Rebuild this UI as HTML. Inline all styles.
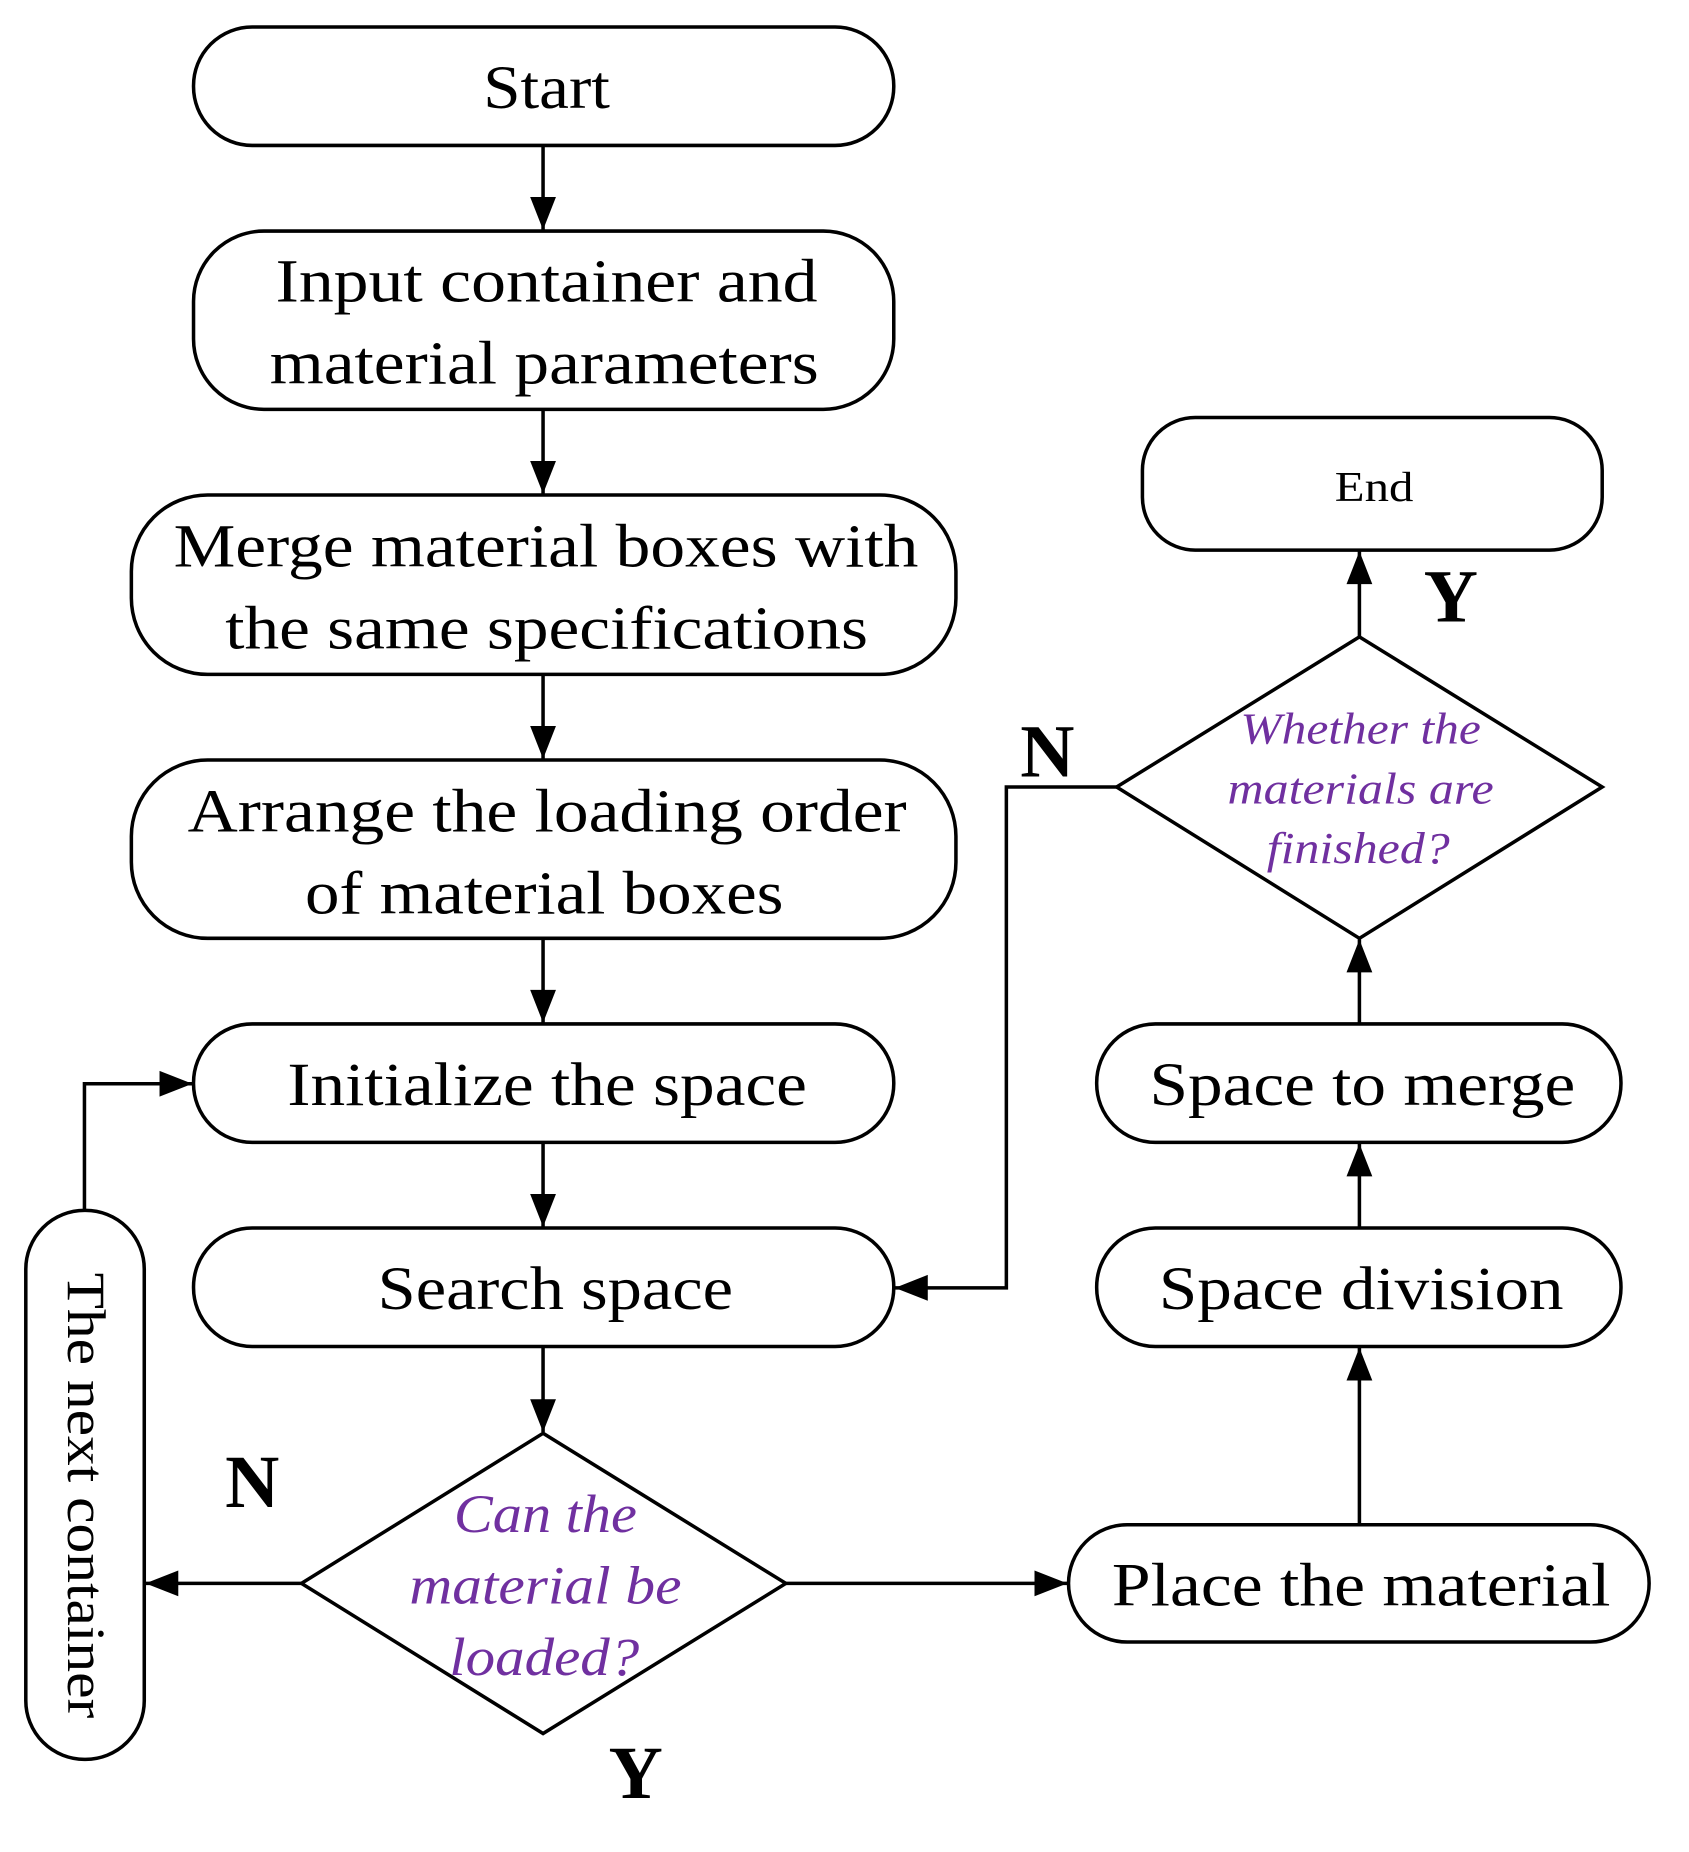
<!DOCTYPE html>
<html><head><meta charset="utf-8"><style>html,body{margin:0;padding:0;background:#fff}svg{display:block}</style></head>
<body>
<svg width="1689" height="1852" viewBox="0 0 1440 1579" preserveAspectRatio="none" xmlns="http://www.w3.org/2000/svg" font-family="'Liberation Serif', serif">
<g fill="none" stroke="#000" stroke-width="3">
<rect x="165" y="23" width="597" height="101" rx="50"/>
<rect x="165" y="197" width="597" height="152" rx="60"/>
<rect x="112" y="422" width="703" height="153" rx="65"/>
<rect x="112" y="648" width="703" height="152" rx="65"/>
<rect x="165" y="873" width="597" height="101" rx="50"/>
<rect x="165" y="1047" width="597" height="101" rx="50"/>
<rect x="22" y="1032" width="101" height="468" rx="50"/>
<rect x="911" y="1300" width="495" height="100" rx="50"/>
<rect x="935" y="1047" width="447" height="101" rx="50"/>
<rect x="935" y="873" width="447" height="101" rx="50"/>
<rect x="974" y="356" width="392" height="113" rx="45"/>
<polygon points="463,1222 670,1350 463,1478 257,1350"/>
<polygon points="1159,543 1366,671 1159,800 952,671"/>
</g>
<g stroke="#000" stroke-width="3" fill="none">
<path d="M463,124V196"/>
<path d="M463,349V421"/>
<path d="M463,575V647"/>
<path d="M463,800V872"/>
<path d="M463,974V1046"/>
<path d="M463,1148V1221"/>
<path d="M72,1032V924H164"/>
<path d="M257,1350H124"/>
<path d="M670,1350H910"/>
<path d="M1159,1300V1149"/>
<path d="M1159,1047V975"/>
<path d="M1159,873V801"/>
<path d="M1159,543V470"/>
<path d="M952,671H858V1098H763"/>
</g>
<g fill="#000">
<path d="M452,168L474,168L463,196z"/>
<path d="M452,393L474,393L463,421z"/>
<path d="M452,619L474,619L463,647z"/>
<path d="M452,844L474,844L463,872z"/>
<path d="M452,1018L474,1018L463,1046z"/>
<path d="M452,1193L474,1193L463,1221z"/>
<path d="M136,913L136,935L164,924z"/>
<path d="M152,1339L152,1361L124,1350z"/>
<path d="M882,1339L882,1361L910,1350z"/>
<path d="M1148,1177L1170,1177L1159,1149z"/>
<path d="M1148,1003L1170,1003L1159,975z"/>
<path d="M1148,829L1170,829L1159,801z"/>
<path d="M1148,498L1170,498L1159,470z"/>
<path d="M791,1087L791,1109L763,1098z"/>
</g>
<g font-size="52" text-anchor="middle" fill="#000" lengthAdjust="spacingAndGlyphs">
<text x="466" y="92" textLength="108" lengthAdjust="spacingAndGlyphs">Start</text>
<text x="466" y="257" textLength="462" lengthAdjust="spacingAndGlyphs">Input container and</text>
<text x="464" y="327" textLength="468" lengthAdjust="spacingAndGlyphs">material parameters</text>
<text x="465.5" y="483" textLength="635" lengthAdjust="spacingAndGlyphs">Merge material boxes with</text>
<text x="466" y="553" textLength="548" lengthAdjust="spacingAndGlyphs">the same specifications</text>
<text x="466.5" y="709" textLength="613" lengthAdjust="spacingAndGlyphs">Arrange the loading order</text>
<text x="464" y="779" textLength="408" lengthAdjust="spacingAndGlyphs">of material boxes</text>
<text x="466.5" y="942" textLength="443" lengthAdjust="spacingAndGlyphs">Initialize the space</text>
<text x="473.5" y="1116" textLength="303" lengthAdjust="spacingAndGlyphs">Search space</text>
<text x="1160.5" y="1369" textLength="425" lengthAdjust="spacingAndGlyphs">Place the material</text>
<text x="1160.5" y="1116" textLength="345" lengthAdjust="spacingAndGlyphs">Space division</text>
<text x="1161.5" y="942" textLength="363" lengthAdjust="spacingAndGlyphs">Space to merge</text>
<text x="1171.5" y="427" font-size="36" textLength="67" lengthAdjust="spacingAndGlyphs">End</text>
<text transform="translate(58,1275) rotate(90)" font-size="46" textLength="380" lengthAdjust="spacingAndGlyphs">The next container</text>
</g>
<g font-style="italic" fill="#7030A0" text-anchor="middle">
<text x="465" y="1306" font-size="46" textLength="156" lengthAdjust="spacingAndGlyphs">Can the</text>
<text x="465" y="1367" font-size="46" textLength="232" lengthAdjust="spacingAndGlyphs">material be</text>
<text x="464" y="1428" font-size="46" textLength="162" lengthAdjust="spacingAndGlyphs">loaded?</text>
<text x="1160" y="634" font-size="38" textLength="205" lengthAdjust="spacingAndGlyphs">Whether the</text>
<text x="1160" y="685" font-size="38" textLength="227" lengthAdjust="spacingAndGlyphs">materials are</text>
<text x="1158" y="736" font-size="38" textLength="156" lengthAdjust="spacingAndGlyphs">finished?</text>
</g>
<g font-weight="bold" font-size="64" text-anchor="middle" fill="#000">
<text x="215" y="1285">N</text>
<text x="542" y="1533">Y</text>
<text x="893" y="662">N</text>
<text x="1237" y="530">Y</text>
</g>
</svg>
</body></html>
